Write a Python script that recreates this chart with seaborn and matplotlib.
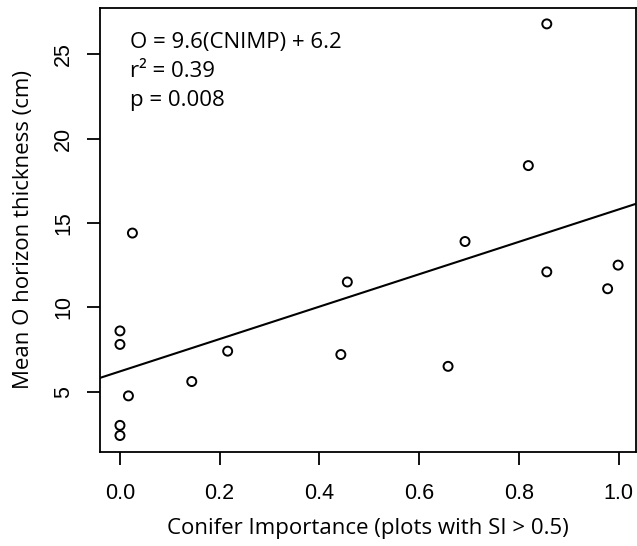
import numpy as np
import pandas as pd
import matplotlib
matplotlib.use("Agg")
import matplotlib.pyplot as plt
import seaborn as sns

# conifer importance vs mean O horizon thickness
conifer_imp = [0.0, 0.0, 0.0, 0.0, 0.017, 0.025, 0.144, 0.216, 0.443, 0.456,
               0.658, 0.692, 0.819, 0.856, 0.856, 0.978, 0.999]
o_thick = [8.6, 7.8, 3.0, 2.4, 4.75, 14.4, 5.6, 7.4, 7.2, 11.5,
           6.5, 13.9, 18.4, 26.8, 12.1, 11.1, 12.5]

slope = 9.6
intercept = 6.2
eq_lines = ["O = 9.6(CNIMP) + 6.2", "r\u00b2 = 0.39", "p = 0.008"]

df = pd.DataFrame({"cnimp": conifer_imp, "O": o_thick})

sns.set_style("ticks")
plt.rcParams["font.family"] = ["Liberation Sans", "DejaVu Sans"]
plt.rcParams["text.color"] = "black"
plt.rcParams["axes.labelcolor"] = "black"
plt.rcParams["xtick.color"] = "black"
plt.rcParams["ytick.color"] = "black"
label_font = ["Open Sans", "DejaVu Sans"]

fig = plt.figure(figsize=(6.37, 5.46), dpi=100)
ax = fig.add_axes([0.157, 0.1727, 0.8415, 0.8126])

sns.scatterplot(data=df, x="cnimp", y="O", ax=ax, marker="o", s=42,
                facecolors="none", edgecolor="black", linewidth=1.4, zorder=3)
ax.axline((0, intercept), slope=slope, color="black", lw=1.5)

ax.set_xlim(-0.04, 1.035)
ax.set_ylim(1.44, 27.74)
ax.set_xticks([0.0, 0.2, 0.4, 0.6, 0.8, 1.0])
ax.set_xticklabels(["0.0", "0.2", "0.4", "0.6", "0.8", "1.0"])
ax.set_yticks([5, 10, 15, 20, 25])
ax.set_yticklabels(["5", "10", "15", "20", "25"], rotation=90, va="center")
ax.tick_params(length=9.5, width=1.3, labelsize=15.5, color="black",
               labelcolor="black")
ax.tick_params(axis="x", pad=13)
ax.tick_params(axis="y", pad=9)
for sp in ax.spines.values():
    sp.set_linewidth(1.3)
    sp.set_color("black")

ax.set_xlabel("Conifer Importance (plots with SI > 0.5)", family=label_font,
              fontsize=16, labelpad=10)
ax.set_ylabel("Mean O horizon thickness (cm)", family=label_font,
              fontsize=16, labelpad=14)

for i, t in enumerate(eq_lines):
    ax.text(0.056, 0.923 - i * 0.066, t, transform=ax.transAxes,
            family=label_font, fontsize=16, va="center", ha="left")

fig.savefig("out.png", dpi=100)
